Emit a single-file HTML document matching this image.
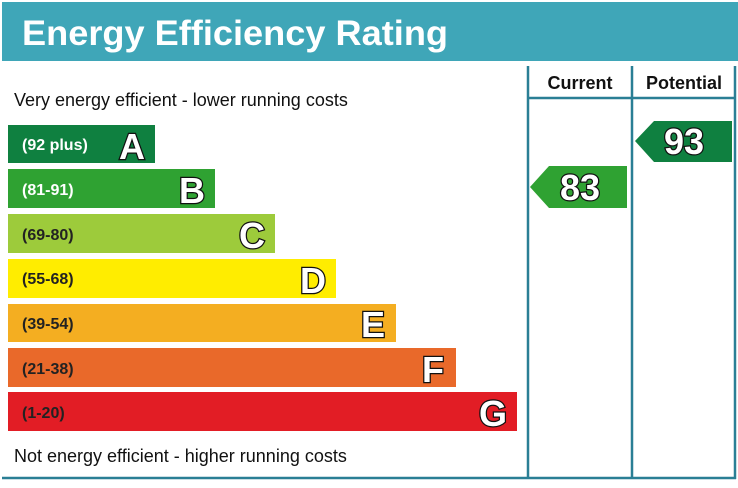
<!DOCTYPE html>
<html><head><style>body{margin:0;background:#fff}</style></head><body>
<svg width="738" height="483" viewBox="0 0 738 483" xmlns="http://www.w3.org/2000/svg" font-family="Liberation Sans, sans-serif">
<rect x="2" y="2" width="736" height="59" fill="#3fa6b8"/>
<text x="22" y="45" font-size="35" font-weight="bold" fill="#fff" textLength="426" lengthAdjust="spacingAndGlyphs">Energy Efficiency Rating</text>
<g stroke="#2a7f95" stroke-width="2.5" fill="none">
<line x1="528" y1="66" x2="528" y2="479"/>
<line x1="632" y1="66" x2="632" y2="479"/>
<line x1="735" y1="66" x2="735" y2="479"/>
<line x1="528" y1="98" x2="735" y2="98"/>
<line x1="2" y1="478" x2="736" y2="478"/>
</g>
<text x="580" y="89" font-size="18" font-weight="bold" text-anchor="middle" fill="#111">Current</text>
<text x="684" y="89" font-size="18" font-weight="bold" text-anchor="middle" fill="#111">Potential</text>
<text x="14" y="106" font-size="18" fill="#111">Very energy efficient - lower running costs</text>
<text x="14" y="462" font-size="18" fill="#111">Not energy efficient - higher running costs</text>
<g font-size="16" font-weight="bold" fill="#222">
<rect x="8" y="125" width="147" height="38" fill="#0f8040"/><text x="22" y="150" fill="#fff">(92 plus)</text>
<rect x="8" y="169" width="207" height="39" fill="#2fa232"/><text x="22" y="195" fill="#fff">(81-91)</text>
<rect x="8" y="214" width="267" height="39" fill="#9dcb3b"/><text x="22" y="240">(69-80)</text>
<rect x="8" y="259" width="328" height="39" fill="#ffed00"/><text x="22" y="284">(55-68)</text>
<rect x="8" y="304" width="388" height="38" fill="#f4ae21"/><text x="22" y="329">(39-54)</text>
<rect x="8" y="348" width="448" height="39" fill="#e9692a"/><text x="22" y="374">(21-38)</text>
<rect x="8" y="392" width="509" height="39" fill="#e21d25"/><text x="22" y="418">(1-20)</text>
</g>
<g font-size="36" font-weight="bold" fill="#fff" stroke="#111" stroke-width="2.5" text-anchor="end" paint-order="stroke">
<text x="145" y="159">A</text>
<text x="205" y="203">B</text>
<text x="265" y="248">C</text>
<text x="326" y="293">D</text>
<text x="385" y="337">E</text>
<text x="444" y="382">F</text>
<text x="507" y="426">G</text>
</g>
<polygon points="530,187 549,166 627,166 627,208 549,208" fill="#2fa232"/>
<polygon points="635,141 654,121 732,121 732,162 654,162" fill="#0f8040"/>
<g font-size="36" font-weight="bold" fill="#fff" stroke="#111" stroke-width="2.5" text-anchor="middle" paint-order="stroke">
<text x="580" y="200">83</text>
<text x="684" y="154">93</text>
</g>
</svg>
</body></html>
